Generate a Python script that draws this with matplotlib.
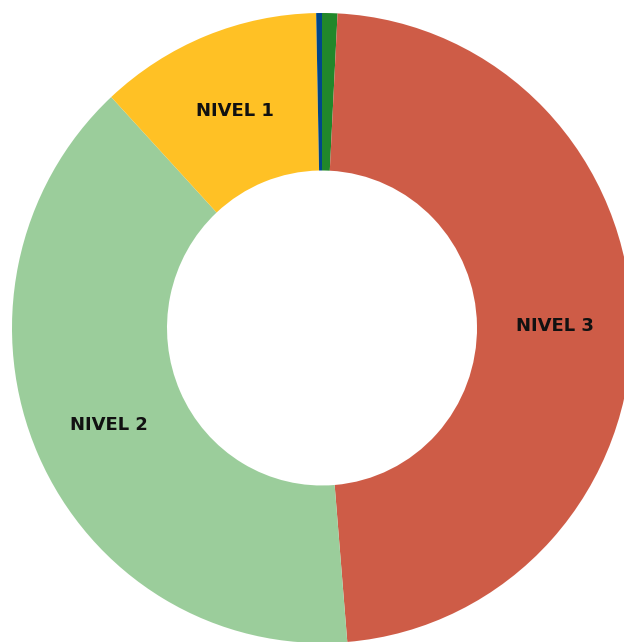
import numpy as np
import matplotlib
matplotlib.use("Agg")
import matplotlib.pyplot as plt

# slices clockwise from 12 o'clock
categories = ["NIVEL 4", "NIVEL 3", "NIVEL 2", "NIVEL 1", "NIVEL 0"]
values = [0.8, 47.9, 39.4, 11.6, 0.3]
show_label = [False, True, True, True, False]
colors = ["#21872A", "#CE5C47", "#9BCD9B", "#FFC125", "#00468A"]

fig = plt.figure(figsize=(6.24, 6.42), dpi=100)
ax = fig.add_axes([0, 0, 1, 1])

wedges, _ = ax.pie(values, colors=colors, startangle=90, counterclock=False,
                   radius=1.0, wedgeprops=dict(width=0.5, linewidth=0))

mid_r = 1.0 - 0.5 / 2
for w, name, show in zip(wedges, categories, show_label):
    if not show:
        continue
    ang = np.deg2rad((w.theta1 + w.theta2) / 2)
    ax.text(mid_r * np.cos(ang), mid_r * np.sin(ang), name,
            ha="center", va="center_baseline", fontsize=13, fontweight="bold",
            family="DejaVu Sans", color="#111111")

# ring is slightly taller than wide: centre at pixel (322, 328),
# 310 px per unit across, 315 px per unit down
ax.set_xlim(-322 / 310, (624 - 322) / 310)
ax.set_ylim(-(642 - 328) / 315, 328 / 315)
ax.set_aspect("auto")
ax.axis("off")

fig.savefig("out.png", dpi=100)
